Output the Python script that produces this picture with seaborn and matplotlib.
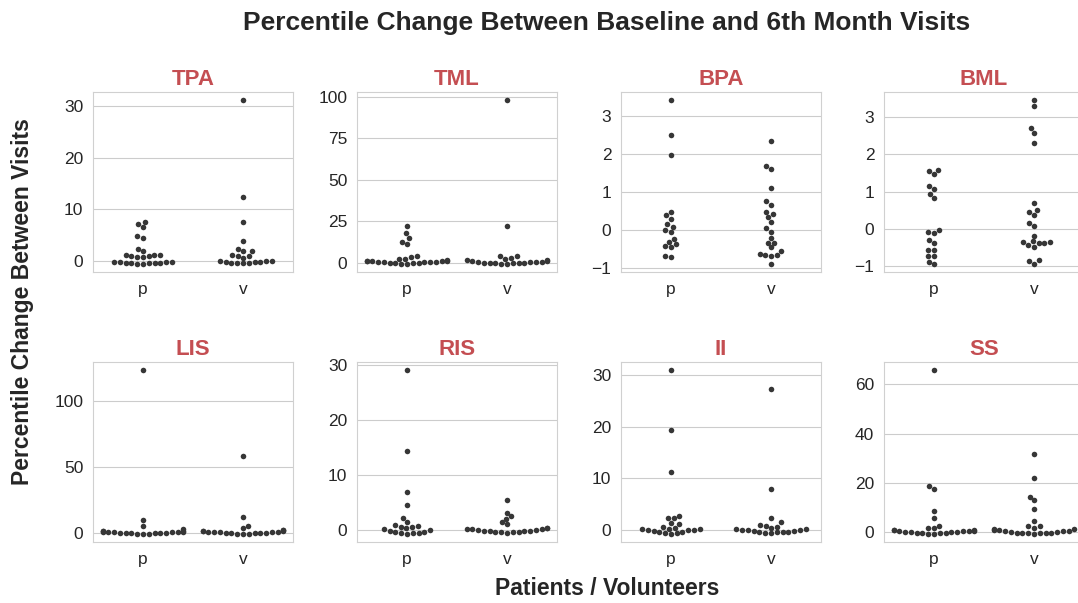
import numpy as np
import pandas as pd
import matplotlib
matplotlib.use("Agg")
import matplotlib.pyplot as plt
import seaborn as sns
import warnings
warnings.filterwarnings("ignore")

measures = ["TPA", "TML", "BPA", "BML", "LIS", "RIS", "II", "SS"]
groups = ["p", "v"]

tpa_p = [7.6, 7.2, 6.6, 4.8, 4.5, 2.3, 1.8, 1.2, 1.0, 0.9, 0.8, 1.1, 1.2, 0.7,
         -0.2, -0.3, -0.4, -0.5, -0.5, -0.6, -0.6, -0.5, -0.4, -0.3, -0.2]
tpa_v = [31.2, 12.3, 7.6, 3.8, 2.3, 1.8, 1.8, 1.2, 1.0, 0.9, 0.6,
         0.0, -0.1, -0.2, -0.3, -0.4, -0.5, -0.5, -0.4, -0.3, -0.1]
tml_p = [22.3, 17.8, 14.8, 12.8, 11.6, 4.3, 3.7, 2.6, 2.6,
         1.4, 1.2, 1.0, 0.8, 0.6, 0.4, 0.2, 0.0, -0.2, -0.5, -0.6, -0.3, 0.1, 0.3, 0.5, 0.9, 1.3]
tml_v = [98.0, 22.2, 4.3, 4.1, 3.2, 2.6, 2.0,
         1.6, 1.0, 0.6, 0.3, 0.0, -0.3, -0.5, -0.6, -0.4, -0.2, 0.1, 0.3, 0.5, 0.8, -0.1]
bpa_p = [3.41, 2.5, 1.96, 0.48, 0.39, 0.30, 0.15, 0.09, -0.01, -0.05, -0.23,
         -0.31, -0.38, -0.43, -0.45, -0.68, -0.72]
bpa_v = [2.34, 1.67, 1.6, 1.09, 0.75, 0.66, 0.42, 0.46, 0.33, 0.2, 0.04, -0.05,
         -0.2, -0.34, -0.34, -0.46, -0.56, -0.67, -0.68, -0.65, -0.63, -0.89]
bml_p = [1.55, 1.48, 1.59, 1.16, 1.07, 0.93, 0.82, -0.03, -0.09, -0.12, -0.30,
         -0.39, -0.56, -0.57, -0.73, -0.73, -0.89, -0.94]
bml_v = [3.46, 3.3, 2.71, 2.59, 2.32, 0.70, 0.46, 0.38, 0.5, 0.15, 0.09, -0.18,
         -0.33, -0.35, -0.39, -0.44, -0.39, -0.36, -0.48, -0.87, -0.94, -0.85]
lis_p = [123.0, 10.2, 5.1, 3.1, 1.8, 1.2, 0.9, 0.6, 0.4, 0.2, 0.0, -0.3, -0.5,
         -0.4, -0.1, 0.1, 0.3, 0.5, 0.8, 1.0, 1.3, 1.6]
lis_v = [58.2, 12.2, 5.6, 3.8, 2.5, 1.5, 1.0, 0.6, 0.3, 0.0, -0.3, -0.5, -0.3,
         0.0, 0.2, 0.4, 0.6, 0.9, 1.2, 1.5, 2.0, 2.2]
ris_p = [29.0, 14.3, 6.9, 4.5, 2.2, 1.4, 0.9, 0.8, 0.6, 0.5, 0.3, 0.1, 0.0,
         -0.2, -0.3, -0.4, -0.5, -0.6, -0.7, -0.5]
ris_v = [5.5, 3.1, 2.5, 2.0, 1.4, 1.0, 0.3, 0.2, 0.1, 0.0, -0.1, -0.2, -0.3,
         -0.4, -0.5, -0.4, -0.3, -0.2, -0.1, 0.0, 0.1, 0.3]
ii_p = [30.9, 19.4, 11.2, 2.7, 2.4, 2.3, 1.4, 1.1, 0.6, 0.5, 0.3, 0.2, 0.1,
        0.0, -0.2, -0.4, -0.5, -0.6, -0.7, -0.3, 0.1, 0.2]
ii_v = [27.3, 8.0, 2.4, 1.5, 1.0, 0.9, 0.7, 0.5, 0.3, 0.1, 0.0, -0.2, -0.3,
        -0.4, -0.5, -0.6, -0.4, -0.3, -0.2, 0.0, 0.2]
ss_p = [65.8, 18.8, 17.7, 8.5, 5.8, 2.6, 1.8, 1.7, 0.8, 0.6, 0.3, 0.1, -0.1,
        -0.3, -0.5, -0.6, -0.7, -0.5, -0.3, -0.1, 0.1, 0.3, 0.5, 0.7, 1.0]
ss_v = [31.6, 21.8, 14.4, 12.9, 9.5, 4.7, 2.3, 2.3, 1.8, 1.3, 0.8, 0.8, 0.3,
        0.0, -0.2, -0.4, -0.5, -0.6, -0.5, -0.4, -0.2, 0.0, 0.3, 0.6, 1.1]

data = {
    "TPA": (tpa_p, tpa_v), "TML": (tml_p, tml_v), "BPA": (bpa_p, bpa_v),
    "BML": (bml_p, bml_v), "LIS": (lis_p, lis_v), "RIS": (ris_p, ris_v),
    "II": (ii_p, ii_v), "SS": (ss_p, ss_v),
}

rows = []
for m in measures:
    for g, vals in zip(groups, data[m]):
        for v in vals:
            rows.append({"measure": m, "group": g, "change": v})
df = pd.DataFrame(rows)

sns.set_style("whitegrid")
plt.rcParams["font.family"] = ["Liberation Sans", "DejaVu Sans"]

W, H = 1078, 603
fig = plt.figure(figsize=(W / 100, H / 100), dpi=100)

lefts = [93, 357, 621, 884]
tops = [92, 362]
aw, ah = 200, 180
title_red = "#c44e52"

for i, m in enumerate(measures):
    r, c = divmod(i, 4)
    ax = fig.add_axes([lefts[c] / W, 1 - (tops[r] + ah) / H, aw / W, ah / H])
    sub = df[df["measure"] == m]
    sns.swarmplot(data=sub, x="group", y="change", order=groups, ax=ax,
                  color="#363636", size=4.0)
    ax.set_xlabel("")
    ax.set_ylabel("")
    ax.set_title(m, color=title_red, fontsize=16, fontweight="bold", pad=5)
    ax.tick_params(axis="both", labelsize=12.5, colors="#262626")
    for s in ax.spines.values():
        s.set_color("#d0d0d0")

fig.suptitle("Percentile Change Between Baseline and 6th Month Visits",
             x=0.563, y=0.982, fontsize=19, fontweight="bold", color="#262626")
fig.text(0.563, 0.005, "Patients / Volunteers", ha="center", va="bottom",
         fontsize=16.5, fontweight="bold", color="#262626")
fig.text(0.021, 0.5, "Percentile Change Between Visits", ha="center", va="center",
         rotation=90, fontsize=16.5, fontweight="bold", color="#262626")

fig.savefig("out.png", dpi=100)
